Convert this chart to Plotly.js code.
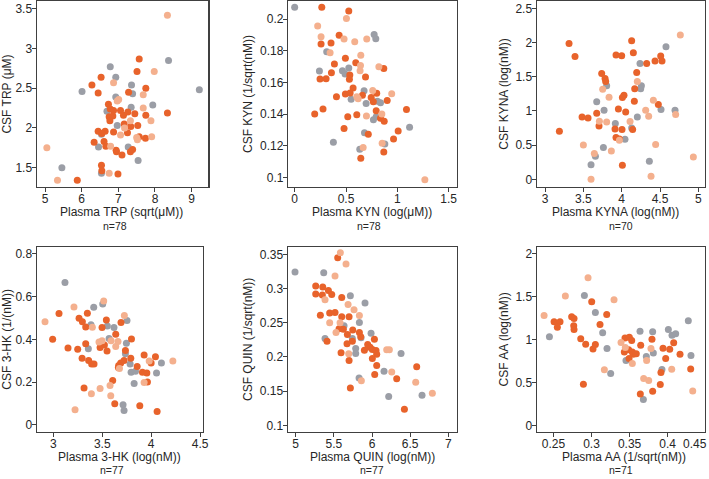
<!DOCTYPE html>
<html>
<head>
<meta charset="utf-8">
<script src="https://cdn.plot.ly/plotly-3.0.1.min.js"></script>
<style>
  html, body { margin: 0; padding: 0; background: #fff; }
  #chart { width: 709px; height: 479px; }
</style>
</head>
<body>
<div id="chart"></div>
<script>
// group colours
const colGrey = '#9b9ea6';
const colDark = '#e8632b';
const colLight = '#f4b08e';

// --- TRP ---
const trpGreyX = [8.37,6.78,6.93,6.01,7.36,7.39,9.21,6.93,6.69,7.35,7.94,6.97,7.27,6.46,7.54,5.46,6.54,6.54];
const trpGreyY = [2.85,2.77,2.64,2.46,2.54,2.43,2.48,2.39,2.21,2.26,2.29,2.03,1.76,1.76,1.59,1.50,1.43,1.92];
const trpLightX = [8.34,7.98,6.87,7.68,7.01,6.97,7.68,7.33,7.89,7.17,7.06,7.50,7.52,7.91,6.79,5.05,6.75,5.34];
const trpLightY = [3.42,2.71,2.57,2.42,2.36,2.34,2.25,2.09,2.09,2.00,1.91,1.88,1.85,1.89,1.77,1.75,1.43,1.34];
const trpDarkX = [7.57,7.51,6.53,6.28,6.45,7.28,7.75,6.73,6.78,6.87,7.06,7.26,7.45,7.75,8.34,6.75,6.85,6.77,7.14,7.16,7.34,7.53,6.64,6.87,6.45,6.55,7.25,7.57,7.74,6.34,6.61,6.66,6.94,6.95,7.33,7.39,7.10,6.54,6.55,6.99,5.88];
const trpDarkY = [2.87,2.71,2.64,2.54,2.44,2.45,2.50,2.30,2.24,2.22,2.22,2.20,2.18,2.16,2.19,2.14,2.15,2.09,2.16,2.05,2.02,2.03,1.96,1.95,1.96,1.93,1.94,1.89,1.87,1.82,1.83,1.77,1.72,1.70,1.70,1.73,1.66,1.53,1.46,1.42,1.34];

// --- KYN ---
const kynGreyX = [0,0.774,0.790,0.312,0.241,0.465,0.491,0.527,0.550,0.676,0.806,0.836,0.696,0.767,0.794,0.680,1.119,0.377,0.878,0.634];
const kynGreyY = [0.2074,0.1903,0.1876,0.1794,0.1672,0.1674,0.1653,0.1691,0.1493,0.1547,0.1480,0.1472,0.1467,0.1364,0.1383,0.1282,0.1316,0.1221,0.1211,0.1177];
const kynLightX = [0.504,0.224,0.257,0.481,0.702,0.585,0.345,0.644,0.641,0.820,0.637,0.760,0.945,0.605,0.618,0.699,0.849,0.852,0.667,1.268];
const kynLightY = [0.2004,0.1956,0.1888,0.1874,0.1874,0.1857,0.1787,0.1771,0.1707,0.1699,0.1674,0.1549,0.1528,0.1509,0.1497,0.1387,0.1400,0.1215,0.1189,0.0985];
const kynDarkX = [0.264,0.527,0.433,0.257,0.354,0.387,0.494,0.595,0.868,0.358,0.537,0.533,0.247,0.306,0.690,0.569,0.407,0.494,0.540,0.660,0.745,0.766,0.799,0.901,0.517,0.605,0.794,0.836,0.872,0.195,0.276,1.089,0.481,0.717,1.008,0.963,0.644,0.868];
const kynDarkY = [0.2074,0.2051,0.1897,0.1842,0.1848,0.1716,0.1752,0.1724,0.1688,0.1661,0.1646,0.1619,0.1621,0.1623,0.1634,0.1564,0.1509,0.1526,0.1533,0.1518,0.1505,0.1478,0.1531,0.1486,0.1383,0.1396,0.1421,0.1373,0.1354,0.1400,0.1432,0.1429,0.1309,0.1272,0.1293,0.1242,0.1120,0.1160];

// --- KYNA ---
const kynaGreyX = [4.578,4.239,4.257,4.248,3.804,3.674,3.770,4.513,4.696,3.917,4.204,4.130,4.043,3.761,3.657,3.600,4.361];
const kynaGreyY = [1.938,1.694,1.367,1.323,1.367,1.133,1.011,1.020,1.011,0.816,0.913,0.752,0.586,0.464,0.337,0.215,0.264];
const kynaLightX = [4.765,4.204,3.752,3.835,4.313,4.413,4.704,4.352,3.709,3.804,4.109,3.970,4.443,3.500,3.865,3.643,4.935,4.383,3.600];
const kynaLightY = [2.109,1.431,1.318,1.201,1.011,1.157,0.947,0.923,0.850,0.840,0.845,0.571,0.508,0.503,0.415,0.376,0.327,0.044,0.000];
const kynaDarkX = [3.313,3.391,4.130,3.926,4.000,4.152,4.509,4.526,4.435,4.326,4.196,3.739,3.783,3.791,4.170,4.030,4.009,4.165,3.674,3.957,4.052,4.478,3.483,3.561,3.704,3.913,4.004,4.143,3.187,3.926,3.970,4.009];
const kynaDarkY = [1.987,1.797,2.026,1.816,1.807,1.851,1.802,1.729,1.729,1.694,1.562,1.548,1.475,1.431,1.323,1.230,1.196,1.143,0.967,1.030,0.986,1.094,0.913,0.898,0.781,0.737,0.728,0.728,0.703,0.610,0.591,0.205];

// --- 3-HK ---
const hkGreyX = [3.119,3.413,3.505,3.385,3.552,3.620,3.753,3.570,3.747,3.358,3.737,3.785,3.795,3.840,4.105,4.055,3.826,3.713,3.723];
const hkGreyY = [0.666,0.550,0.566,0.468,0.463,0.455,0.488,0.404,0.382,0.356,0.332,0.284,0.246,0.250,0.289,0.242,0.193,0.094,0.067];
const hkLightX = [3.211,3.515,2.915,3.399,3.726,3.590,3.467,3.498,3.638,3.661,3.676,3.980,4.222,3.928,3.478,3.580,3.389,3.587,3.222];
const hkLightY = [0.552,0.580,0.483,0.457,0.512,0.393,0.388,0.393,0.366,0.390,0.264,0.299,0.299,0.198,0.170,0.184,0.145,0.136,0.070];
const hkDarkX = [3.058,3.263,3.297,3.348,3.331,3.498,3.542,3.692,2.993,3.150,3.249,3.331,3.638,3.522,3.549,3.478,3.799,3.294,3.361,3.392,3.416,3.737,3.689,3.668,3.665,3.723,3.792,3.928,3.857,3.911,3.956,4.000,4.044,3.962,3.607,3.314,3.628,3.884,4.061];
const hkDarkY = [0.521,0.499,0.483,0.522,0.458,0.455,0.491,0.479,0.401,0.359,0.354,0.379,0.424,0.374,0.346,0.362,0.402,0.312,0.301,0.285,0.284,0.348,0.289,0.278,0.268,0.301,0.312,0.327,0.273,0.246,0.242,0.289,0.318,0.200,0.207,0.172,0.098,0.089,0.062];

// --- QUIN ---
const quinGreyX = [4.991,5.367,5.716,5.908,5.834,5.633,5.987,5.384,5.742,5.856,5.786,5.952,5.786,6.380,6.157,5.830,6.218,6.655];
const quinGreyY = [0.3241,0.3231,0.2895,0.2787,0.2504,0.2455,0.2348,0.2270,0.2270,0.2279,0.2123,0.2147,0.2050,0.2050,0.1791,0.1693,0.1420,0.1440];
const quinLightX = [5.585,5.659,5.515,5.384,5.686,5.764,5.834,5.445,5.581,5.528,6.192,6.227,5.694,6.258,5.860,6.572,6.790];
const quinLightY = [0.3524,0.3358,0.3183,0.2836,0.2768,0.2690,0.2606,0.2500,0.2500,0.2357,0.2104,0.2104,0.2045,0.1781,0.1650,0.1630,0.1469];
const quinDarkX = [5.550,5.262,5.354,5.428,5.262,5.349,5.472,5.603,5.323,5.445,5.515,5.603,5.699,5.568,5.624,5.747,5.677,5.834,5.852,5.410,5.742,5.672,6.031,5.943,5.974,5.900,6.004,6.052,5.594,6.061,6.004,5.699,6.061,6.035,6.323,6.585,5.716,6.424];
const quinDarkY = [0.3451,0.3036,0.3021,0.2973,0.2919,0.2904,0.2914,0.2870,0.2611,0.2641,0.2650,0.2587,0.2587,0.2411,0.2406,0.2392,0.2328,0.2357,0.2294,0.2231,0.2231,0.2191,0.2260,0.2182,0.2143,0.2099,0.2108,0.2094,0.2060,0.2040,0.1977,0.1948,0.1874,0.1742,0.1679,0.1855,0.1547,0.1234];

// --- AA ---
const aaGreyX = [0.2448,0.2907,0.3051,0.3147,0.3204,0.3252,0.3453,0.3637,0.3720,0.3681,0.3803,0.3812,0.3925,0.4009,0.4057,0.4105,0.4271,0.4306];
const aaGreyY = [1.029,1.511,1.313,1.076,0.893,0.602,0.753,1.095,0.800,0.299,1.087,0.841,0.649,1.115,1.049,1.064,1.216,0.812];
const aaLightX = [0.2955,0.2378,0.2657,0.3296,0.3169,0.3388,0.3444,0.3536,0.3724,0.3685,0.3751,0.3781,0.4053,0.4329];
const aaLightY = [1.717,1.278,1.503,1.460,0.645,0.963,0.905,0.718,0.753,0.544,0.520,0.893,0.652,0.400];
const aaDarkX = [0.2509,0.2587,0.2552,0.3003,0.3200,0.3112,0.2740,0.2771,0.2767,0.2771,0.2859,0.2924,0.3051,0.3020,0.2894,0.3431,0.3440,0.3497,0.3528,0.3488,0.3493,0.3536,0.3549,0.3588,0.3646,0.3641,0.3803,0.3794,0.3912,0.3903,0.3939,0.3974,0.4027,0.4079,0.4162,0.4302];
const aaDarkY = [1.204,1.204,1.142,1.437,1.289,1.173,1.262,1.243,1.157,1.115,1.006,0.944,0.940,0.889,0.478,0.854,1.017,1.025,0.986,0.878,0.777,0.854,0.827,0.831,0.932,0.365,0.396,1.002,0.614,0.474,0.897,0.777,0.886,0.959,0.827,0.656];

const xTitles = ['Plasma TRP (sqrt(μM))', 'Plasma KYN (log(μM))', 'Plasma KYNA (log(nM))',
                 'Plasma 3-HK (log(nM))', 'Plasma QUIN (log(nM))', 'Plasma AA (1/sqrt(nM))'];
const yTitles = ['CSF TRP (μM)', 'CSF KYN (1/sqrt(nM))', 'CSF KYNA (log(nM))',
                 'CSF 3-HK (1/(nM))', 'CSF QUIN (1/sqrt(nM))', 'CSF AA (log(nM))'];
const nLabels = ['n=78', 'n=78', 'n=70', 'n=77', 'n=77', 'n=71'];

const panels = [
  [trpGreyX, trpGreyY, trpDarkX, trpDarkY, trpLightX, trpLightY],
  [kynGreyX, kynGreyY, kynDarkX, kynDarkY, kynLightX, kynLightY],
  [kynaGreyX, kynaGreyY, kynaDarkX, kynaDarkY, kynaLightX, kynaLightY],
  [hkGreyX, hkGreyY, hkDarkX, hkDarkY, hkLightX, hkLightY],
  [quinGreyX, quinGreyY, quinDarkX, quinDarkY, quinLightX, quinLightY],
  [aaGreyX, aaGreyY, aaDarkX, aaDarkY, aaLightX, aaLightY]
];

// plot boxes in pixels: [left, right, top, bottom]
const W = 709, H = 479;
const boxes = [
  [36.7, 208.3, 1, 187], [288, 457, 1, 187], [536.7, 705, 1, 187],
  [36.7, 202.7, 246.7, 432], [287.7, 456.7, 246.7, 432], [536.7, 705, 246.7, 432]
];
const xRanges = [[4.773, 9.455], [-0.065, 1.581], [2.891, 5.087], [2.830, 4.527], [4.895, 7.109], [0.2281, 0.4490]];
const yRanges = [[1.256, 3.60], [0.0939, 0.2114], [-0.112, 2.607], [-0.034, 0.834], [0.0902, 0.3612], [-0.078, 2.078]];
const xDticks = [1, 0.5, 0.5, 0.5, 0.5, 0.05];
const yDticks = [0.5, 0.02, 0.5, 0.2, 0.05, 0.5];
const yStandoff = [8, 4, 4, 9, 4, 4];
// label positions in pixels
const xTitlePos = [[121, 212], [372, 212], [615, 212], [120, 456.5], [373, 456.5], [624, 456.5]];
const nPos = [[114.5, 226], [369, 226], [621, 226], [112, 470], [372, 470], [621, 470]];

const textCol = '#262626';
const lineCol = '#404040';
const traces = [];
const layout = {
  width: W, height: H,
  margin: {l: 0, r: 0, t: 0, b: 0},
  paper_bgcolor: '#fff', plot_bgcolor: '#fff',
  showlegend: false,
  font: {family: 'Liberation Sans, Arial, sans-serif', color: textCol, size: 12},
  annotations: []
};

panels.forEach((p, i) => {
  const k = i === 0 ? '' : String(i + 1);
  const cols = [colGrey, colDark, colLight];
  for (let g = 0; g < 3; g++) {
    traces.push({
      type: 'scatter', mode: 'markers',
      x: p[g * 2], y: p[g * 2 + 1],
      xaxis: 'x' + k, yaxis: 'y' + k,
      marker: {color: cols[g], size: 7, line: {width: 0}},
      hoverinfo: 'x+y'
    });
  }
  const b = boxes[i];
  const axCommon = {
    showgrid: false, zeroline: false,
    showline: true, mirror: true, linecolor: lineCol, linewidth: 1.2,
    ticks: 'outside', ticklen: 4, tickcolor: lineCol, tickwidth: 1,
    tickfont: {size: 12, color: textCol},
    automargin: false
  };
  layout['xaxis' + k] = Object.assign({}, axCommon, {
    domain: [b[0] / W, b[1] / W],
    range: xRanges[i], dtick: xDticks[i], tick0: 0,
    anchor: 'y' + k,
    ticklabelstandoff: -4
  });
  layout['yaxis' + k] = Object.assign({}, axCommon, {
    domain: [1 - b[3] / H, 1 - b[2] / H],
    range: yRanges[i], dtick: yDticks[i], tick0: 0,
    anchor: 'x' + k,
    ticklabelstandoff: -3,
    title: {text: yTitles[i], font: {size: 12, color: textCol}, standoff: yStandoff[i]}
  });
  layout.annotations.push({
    xref: 'paper', yref: 'paper',
    x: xTitlePos[i][0] / W, y: 1 - xTitlePos[i][1] / H,
    xanchor: 'center', yanchor: 'middle',
    text: xTitles[i], showarrow: false,
    font: {size: 12, color: textCol}
  });
  layout.annotations.push({
    xref: 'paper', yref: 'paper',
    x: nPos[i][0] / W, y: 1 - nPos[i][1] / H,
    xanchor: 'center', yanchor: 'middle',
    text: nLabels[i], showarrow: false,
    font: {size: 10.5, color: textCol}
  });
});

// last x tick of the AA panel sits on the window edge, so its label is pulled in
layout.xaxis6.tickvals = [0.25, 0.3, 0.35, 0.4];
layout.annotations.push({
  xref: 'paper', yref: 'paper', x: 1, y: 1 - 444 / H,
  xanchor: 'right', yanchor: 'middle', text: '0.45', showarrow: false,
  font: {size: 12, color: textCol}
});

Plotly.newPlot('chart', traces, layout, {displayModeBar: false, staticPlot: true});
</script>
</body>
</html>
